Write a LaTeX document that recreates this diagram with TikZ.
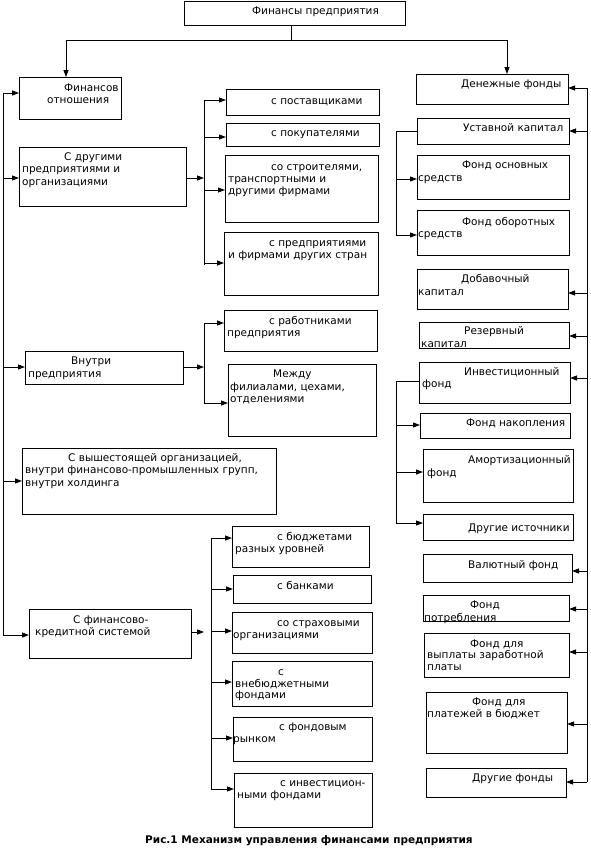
\documentclass[tikz,border=0pt]{standalone}
\usepackage{fontspec}
\setmainfont{DejaVu Sans}
\usetikzlibrary{arrows.meta}
\newcounter{tn}
\newcommand\mybox[5]{\node[box,minimum width={#4pt-#2pt},minimum height={#5pt-#3pt}] (#1) at (#2,#3) {};}
\newcommand\mytext[3]{\stepcounter{tn}\node[txt] (tx\arabic{tn}) at (#1,#2) {#3};}
\begin{document}
\begin{tikzpicture}[x=1pt,y=-1pt,
 box/.style={draw, line width=0.9pt, anchor=north west, inner sep=0pt, outer sep=0pt},
 txt/.style={anchor=base west, inner sep=0pt, font=\fontsize{10.5}{12}\selectfont},
 ln/.style={line width=0.9pt},
 arr/.style={line width=0.9pt, -{Triangle[length=7pt,width=5pt]}}]
\useasboundingbox (0,0) rectangle (590,852);
% boxes
\mybox{top}{184}{1}{405}{25}
\mybox{fin}{19}{77}{121}{119}
\mybox{dr}{19}{147}{186}{206}
\mybox{post}{226}{89}{379}{115}
\mybox{pok}{226}{123}{379}{146}
\mybox{str}{225}{155}{378}{222}
\mybox{prf}{224}{232}{378}{295}
\mybox{rab}{224}{310}{377}{351}
\mybox{mezh}{228}{364}{376}{436}
\mybox{vn}{25}{351}{183}{384}
\mybox{vysh}{22}{448}{276}{514}
\mybox{fk}{29}{609}{191}{658}
\mybox{bud}{232}{526}{369}{567}
\mybox{bank}{233}{575}{371}{603}
\mybox{strah}{232}{612}{372}{653}
\mybox{vneb}{232}{661}{372}{706}
\mybox{fond}{233}{717}{372}{761}
\mybox{inv}{234}{773}{372}{827}
\mybox{den}{416}{74}{568}{104}
\mybox{ust}{417}{118}{569}{144}
\mybox{osn}{417}{155}{569}{199}
\mybox{obr}{417}{210}{569}{255}
\mybox{dob}{417}{269}{568}{309}
\mybox{rez}{419}{322}{569}{348}
\mybox{invf}{419}{362}{570}{403}
\mybox{nak}{420}{413}{570}{438}
\mybox{amort}{423}{449}{573}{502}
\mybox{drist}{423}{514}{573}{540}
\mybox{val}{423}{554}{572}{582}
\mybox{potr}{423}{595}{569}{621}
\mybox{zp}{424}{633}{569}{677}
\mybox{bj}{426}{692}{567}{753}
\mybox{drf}{426}{768}{566}{797}
% texts
\mytext{252}{14}{Финансы предприятия}
\mytext{64}{91}{Финансов}
\mytext{47}{103}{отношения}
\mytext{64}{160}{С другими}
\mytext{22}{172}{предприятиями и}
\mytext{22}{185}{организациями}
\mytext{271}{104}{с поставщиками}
\mytext{271}{136}{с покупателями}
\mytext{271}{170}{со строителями,}
\mytext{228}{182}{транспортными и}
\mytext{228}{194}{другими фирмами}
\mytext{269}{246}{с предприятиями}
\mytext{228}{258}{и фирмами других стран}
\mytext{269}{324}{с работниками}
\mytext{227}{336}{предприятия}
\mytext{273}{377}{Между}
\mytext{230}{390}{филиалами, цехами,}
\mytext{230}{402}{отделениями}
\mytext{71}{364}{Внутри}
\mytext{28}{377}{предприятия}
\mytext{68}{461}{С вышестоящей организацией,}
\mytext{25}{473}{внутри финансово-промышленных групп,}
\mytext{25}{486}{внутри холдинга}
\mytext{73}{623}{С финансово-}
\mytext{35}{635}{кредитной системой}
\mytext{277}{540}{с бюджетами}
\mytext{235}{552}{разных уровней}
\mytext{277}{589}{с банками}
\mytext{277}{626}{со страховыми}
\mytext{233}{638}{организациями}
\mytext{278}{675}{с}
\mytext{235}{687}{внебюджетными}
\mytext{235}{698}{фондами}
\mytext{279}{730}{с фондовым}
\mytext{233}{742}{рынком}
\mytext{280}{786}{с инвестицион-}
\mytext{237}{798}{ными фондами}
\mytext{461}{87}{Денежные фонды}
\mytext{463}{131}{Уставной капитал}
\mytext{462}{168}{Фонд основных}
\mytext{418}{181}{средств}
\mytext{462}{225}{Фонд оборотных}
\mytext{418}{237}{средств}
\mytext{461}{282}{Добавочный}
\mytext{418}{295}{капитал}
\mytext{464}{334}{Резервный}
\mytext{421}{347}{капитал}
\mytext{464}{375}{Инвестиционный}
\mytext{422}{387}{фонд}
\mytext{466}{426}{Фонд накопления}
\mytext{468}{463}{Амортизационный}
\mytext{427}{476}{фонд}
\mytext{468}{531}{Другие источники}
\mytext{468}{568}{Валютный фонд}
\mytext{470}{608}{Фонд}
\mytext{424}{621}{потребления}
\mytext{470}{647}{Фонд для}
\mytext{427}{658}{выплаты заработной}
\mytext{427}{670}{платы}
\mytext{472}{705}{Фонд для}
\mytext{427}{717}{платежей в бюджет}
\mytext{472}{781}{Другие фонды}
\node[anchor=base west, inner sep=0pt, font=\bfseries\fontsize{10.5}{12}\selectfont] (cap) at (145,843) {Рис.1 Механизм управления финансами предприятия};
% top connectors
\coordinate (tj) at (291,40);
\draw[ln] (top.south -| tj) -- (tj);
\draw[arr] (tj) -| ([xshift=-4pt]fin.north);
\draw[arr] (tj) -| ([xshift=15pt]den.north);
% left trunk
\coordinate (L0) at (3,93);
\coordinate (L1) at (3,178);
\coordinate (L2) at (3,367);
\coordinate (L3) at (3,481);
\coordinate (L4) at (3,635);
\draw[ln] (L0) -- (L4);
\foreach \c/\b in {L0/fin,L1/dr,L2/vn,L3/vysh,L4/fk} \draw[arr] (\c) -- (\c -| \b.west);
% group 1
\coordinate (g0) at (204,178);
\coordinate (g1) at (204,100);
\coordinate (g2) at (204,137);
\coordinate (g3) at (204,190);
\coordinate (g4) at (204,263);
\draw[arr] (g0 -| dr.east) -- (g0);
\draw[ln] (g1) -- ([yshift=-2pt]g4);
\foreach \c/\b in {g1/post,g2/pok,g3/str,g4/prf} \draw[arr] (\c) -- (\c -| \b.west);
% group 2
\coordinate (h0) at (204,367);
\coordinate (h1) at (204,323);
\coordinate (h2) at (204,403);
\draw[arr] (h0 -| vn.east) -- (h0);
\draw[ln] (h1) -- (h2);
\foreach \c/\b in {h1/rab,h2/mezh} \draw[arr] (\c) -- (\c -| \b.west);
% group 3
\coordinate (f0) at (211,632);
\coordinate (f1) at (211,538);
\coordinate (f2) at (211,589);
\coordinate (f3) at (211,631);
\coordinate (f4) at (211,682);
\coordinate (f5) at (211,738);
\coordinate (f6) at (211,789);
\draw[arr] (f0 -| fk.east) -- ([xshift=-7pt]f0);
\draw[ln] (f1) -- (f6);
\foreach \c/\b in {f1/bud,f2/bank,f3/strah,f4/vneb,f5/fond,f6/inv} \draw[arr] (\c) -- (\c -| \b.west);
% right trunk
\coordinate (r1) at (587,88);
\coordinate (r2) at (587,131);
\coordinate (r3) at (587,293);
\coordinate (r4) at (587,336);
\coordinate (r5) at (587,378);
\coordinate (r6) at (587,571);
\coordinate (r7) at (587,609);
\coordinate (r8) at (587,652);
\coordinate (r9) at (587,724);
\coordinate (r10) at (587,782);
\draw[ln] (r1) -- (r10);
\foreach \c/\b in {r1/den,r2/ust,r3/dob,r4/rez,r5/invf,r6/val,r7/potr,r8/zp,r9/bj,r10/drf} \draw[arr] (\c) -- (\c -| \b.east);
% ust bracket
\coordinate (u1) at (396,179);
\coordinate (u2) at (396,235);
\draw[ln] (ust.west) -| (u2);
\foreach \c/\b in {u1/osn,u2/obr} \draw[arr] (\c) -- (\c -| \b.west);
% invest bracket
\coordinate (i0) at (396,381);
\coordinate (i1) at (396,425);
\coordinate (i2) at (396,472);
\coordinate (i3) at (396,523);
\draw[ln] (i0 -| invf.west) -- (i0) -- (i3);
\foreach \c/\b in {i1/nak,i2/amort,i3/drist} \draw[arr] (\c) -- (\c -| \b.west);
\end{tikzpicture}
\end{document}
